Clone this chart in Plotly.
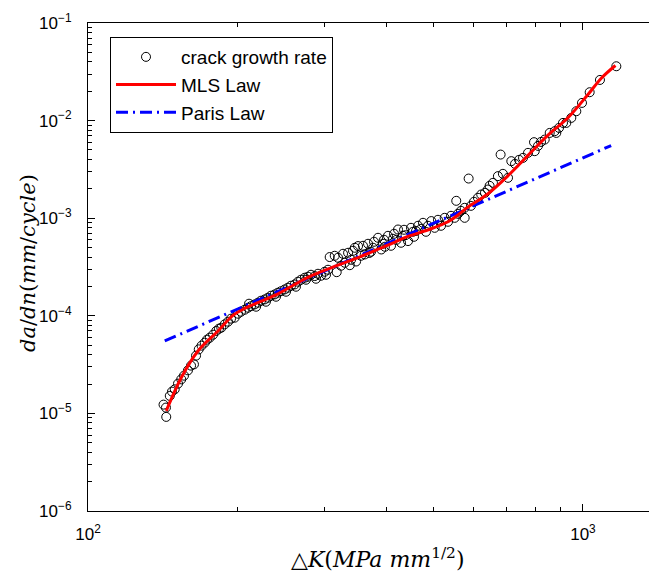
import plotly.graph_objects as go

# ---- data ----
dk_data = [143.9, 142.1, 143.7, 146.3, 147.8, 149.7, 152.0, 154.3, 156.3, 159.2,
           161.5, 163.7, 165.3, 167.4, 169.6, 172.1, 174.0, 176.2, 178.9, 181.6,
           183.9, 185.9, 188.8, 191.8, 194.5, 197.8, 200.9, 203.7, 207.3, 210.5,
           213.4, 217.1, 220.5, 223.6, 227.5, 231.0, 234.2, 238.3, 241.9, 245.4,
           249.7, 253.5, 257.1, 261.6, 265.6, 269.4, 274.1, 278.3, 282.2, 287.1,
           291.5, 295.6, 300.7, 307.8, 305.4, 315.1, 320.0, 324.5, 330.1, 335.3,
           340.0, 345.9, 351.2, 356.1, 362.3, 367.9, 373.0, 378.3, 385.4, 391.3,
           396.3, 403.7, 409.4, 415.2, 423.0, 429.0, 435.0, 443.1, 449.3, 455.6,
           464.2, 475.1, 481.7, 493.8, 501.6, 509.4, 516.6, 525.5, 533.7, 541.2,
           550.6, 554.6, 559.1, 566.9, 576.7, 576.7, 587.5, 593.8, 602.2, 613.5,
           622.9, 633.8, 642.6, 647.7, 657.8, 673.2, 681.7, 689.0, 705.6, 716.5,
           729.0, 742.7, 756.6, 774.4, 796.3, 799.0, 811.3, 822.7, 836.9, 856.6,
           876.7, 883.3, 894.4, 911.2, 925.4, 947.1, 969.4, 995.4, 1031.6, 1082.1,
           1167.8, 218.6, 228.8, 239.8, 251.2, 263.1, 275.7, 288.8, 302.6, 211.5,
           327.5, 343.1, 359.4, 376.6, 394.5, 413.3, 433.0, 453.6, 470.7, 486.3,
           318.0, 338.0, 348.0, 370.0, 398.0, 420.0, 438.0, 460.0]
dadn_data = [9.21e-6, 1.230e-5, 1.147e-5, 1.511e-5, 1.672e-5, 1.765e-5, 2.018e-5, 2.234e-5, 2.436e-5, 2.761e-5,
             3.085e-5, 3.181e-5, 3.904e-5, 4.530e-5, 4.943e-5, 5.305e-5, 5.694e-5, 5.966e-5, 6.404e-5, 6.991e-5,
             7.379e-5, 7.554e-5, 8.166e-5, 8.700e-5, 9.340e-5, 9.56e-5, 1.051e-4, 1.101e-4, 1.154e-4, 1.210e-4,
             1.254e-4, 1.308e-4, 1.362e-4, 1.427e-4, 1.472e-4, 1.532e-4, 1.606e-4, 1.656e-4, 1.724e-4, 1.786e-4,
             1.863e-4, 1.940e-4, 2.033e-4, 2.096e-4, 2.234e-4, 2.342e-4, 2.455e-4, 2.513e-4, 2.634e-4, 2.554e-4,
             2.697e-4, 2.572e-4, 2.827e-4, 3.998e-4, 2.964e-4, 4.121e-4, 3.932e-4, 3.257e-4, 3.495e-4, 4.424e-4,
             3.750e-4, 4.977e-4, 5.181e-4, 4.121e-4, 4.250e-4, 5.470e-4, 4.530e-4, 5.733e-4, 6.30e-4, 4.781e-4,
             6.01e-4, 6.60e-4, 5.218e-4, 6.92e-4, 7.66e-4, 5.60e-4, 7.61e-4, 5.83e-4, 7.97e-4, 6.45e-4,
             8.36e-4, 8.97e-4, 7.26e-4, 9.34e-4, 7.97e-4, 9.63e-4, 8.36e-4, 1.009e-3, 9.19e-4, 1.058e-3,
             1.009e-3, 1.507e-3, 1.109e-3, 1.190e-3, 1.278e-3, 1.009e-3, 2.548e-3, 1.339e-3, 1.472e-3, 1.618e-3,
             1.749e-3, 1.820e-3, 1.967e-3, 2.146e-3, 2.302e-3, 2.697e-3, 4.487e-3, 2.848e-3, 2.593e-3, 3.841e-3,
             3.604e-3, 3.960e-3, 4.151e-3, 4.670e-3, 6.01e-3, 4.861e-3, 5.51e-3, 6.05e-3, 6.39e-3, 7.48e-3,
             7.79e-3, 7.48e-3, 8.42e-3, 9.47e-3, 9.47e-3, 1.066e-2, 1.248e-2, 1.518e-2, 1.953e-2, 2.609e-2,
             3.604e-2, 1.239e-4, 1.394e-4, 1.568e-4, 1.765e-4, 1.986e-4, 2.342e-4, 2.397e-4, 2.634e-4, 1.330e-4,
             4.320e-4, 4.637e-4, 5.218e-4, 4.977e-4, 5.470e-4, 6.15e-4, 6.60e-4, 7.26e-4, 7.79e-4, 8.36e-4,
             2.80e-4, 3.30e-4, 3.60e-4, 4.40e-4, 5.10e-4, 6.00e-4, 6.70e-4, 7.40e-4]

mls_dk = [143.9, 154.3, 166.8, 183.1, 196.3, 207.4, 242.0, 278.2, 320.0, 351.2,
          400.0, 443.1, 490.0, 533.8, 559.1, 585.9, 642.8, 705.6, 774.4, 849.9,
          932.5, 1023.5, 1088.9, 1163.0]
mls_dadn = [1.06e-5, 2.32e-5, 4.36e-5, 6.99e-5, 1.01e-4, 1.19e-4, 1.68e-4, 2.48e-4, 3.30e-4, 3.94e-4,
            5.20e-4, 6.50e-4, 7.70e-4, 9.20e-4, 1.08e-3, 1.30e-3, 1.78e-3, 2.72e-3, 4.40e-3, 7.10e-3,
            1.07e-2, 1.85e-2, 2.72e-2, 3.67e-2]

paris_dk = [142.9, 1140.0]
paris_dadn = [5.52e-5, 5.55e-3]

x_tickvals = [100, 1000]
x_ticktext = ["10<sup>2</sup>", "10<sup>3</sup>"]
y_tickvals = [1e-6, 1e-5, 1e-4, 1e-3, 1e-2, 1e-1]
y_ticktext = ["10<sup>−6</sup>", "10<sup>−5</sup>", "10<sup>−4</sup>",
              "10<sup>−3</sup>", "10<sup>−2</sup>", "10<sup>−1</sup>"]

x_minor = [m * 10 ** e for e in (2, 3) for m in range(2, 10)]
y_minor = [m * 10.0 ** e for e in range(-6, -1) for m in range(2, 10)]

fig = go.Figure()
fig.add_trace(go.Scatter(
    x=dk_data, y=dadn_data, mode="markers", name="crack growth rate", legendrank=1,
    marker=dict(symbol="circle-open", size=9, color="black", line=dict(width=1))))
fig.add_trace(go.Scatter(
    x=paris_dk, y=paris_dadn, mode="lines", name="Paris Law", legendrank=3,
    line=dict(color="blue", width=3, dash="12px,5px,2px,5px")))
fig.add_trace(go.Scatter(
    x=mls_dk, y=mls_dadn, mode="lines", name="MLS Law", legendrank=2,
    line=dict(color="red", width=3, shape="spline", smoothing=1.0)))

tick_font = dict(family="Liberation Sans, Arial, sans-serif", size=17, color="black")
xtitle_font = dict(family="DejaVu Serif, serif", size=22, color="black")
ytitle_font = dict(family="DejaVu Serif, serif", size=21, color="black")

W, H = 657, 571
L, R, T, B = 80, 0, 15, 68
pw, ph = W - L - R, H - T - B


def px_x(x):
    return (x - L) / pw


def px_y(y):
    return (H - B - y) / ph


fig.update_layout(
    width=W, height=H,
    margin=dict(l=L, r=R, t=T, b=B, autoexpand=False),
    paper_bgcolor="white", plot_bgcolor="white",
    showlegend=True,
    legend=dict(x=px_x(102), y=px_y(29), xanchor="left", yanchor="top",
                bgcolor="white", bordercolor="black", borderwidth=1,
                font=dict(family="Liberation Sans, Arial, sans-serif", size=19, color="black"),
                itemwidth=60, tracegroupgap=0),
    xaxis=dict(type="log", range=[2, 3.1657], tickmode="array", automargin=False,
               tickvals=x_tickvals, ticktext=x_ticktext,
               ticks="inside", ticklen=7, tickcolor="black", tickwidth=1,
               showline=True, linecolor="black", linewidth=1, mirror="ticks",
               showgrid=False, zeroline=False, tickfont=tick_font,
               ticklabelstandoff=8,
               minor=dict(tickvals=x_minor, ticks="inside", ticklen=4,
                          tickcolor="black", showgrid=False)),
    yaxis=dict(type="log", range=[-6, -1], tickmode="array", automargin=False,
               tickvals=y_tickvals, ticktext=y_ticktext,
               ticks="inside", ticklen=7, tickcolor="black", tickwidth=1,
               showline=True, linecolor="black", linewidth=1, mirror=False,
               showgrid=False, zeroline=False, tickfont=tick_font,
               ticklabelstandoff=12,
               minor=dict(tickvals=y_minor, ticks="inside", ticklen=4,
                          tickcolor="black", showgrid=False)),
    annotations=[
        dict(text="△<i>K</i>(<i>MPa mm</i><sup>1/2</sup>)", xref="paper", yref="paper",
             x=px_x(370), y=px_y(550), xanchor="center", yanchor="middle",
             showarrow=False, font=xtitle_font),
        dict(text="<i>da</i>/<i>dn</i>(<i>mm</i>/<i>cycle</i>)", xref="paper", yref="paper",
             x=px_x(20), y=px_y(255), xanchor="center", yanchor="middle",
             textangle=-90, showarrow=False, font=ytitle_font),
    ],
)

fig.write_html("out.html")
